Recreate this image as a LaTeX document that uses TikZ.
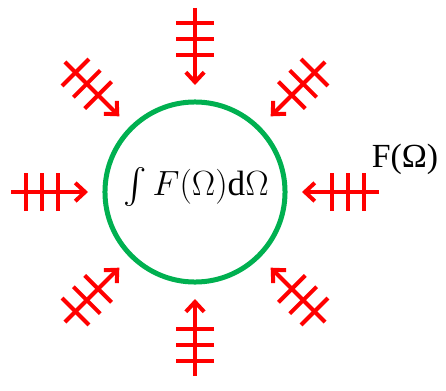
\documentclass[tikz,border=0pt]{standalone}
\usepackage{amsmath,amssymb}
\usepackage{fontspec}
\setmainfont{Liberation Serif}
\usepackage{tikz}
\usetikzlibrary{arrows.meta}
\definecolor{ringgreen}{RGB}{0,176,80}
\definecolor{rayred}{RGB}{255,0,0}
\newcommand{\FOm}{F(\Omega)}

\begin{document}
\begin{tikzpicture}[x=0.025cm, y=0.025cm]
  \tikzset{
    ring/.style={circle, draw=ringgreen, line width=0.125cm, minimum size=4.5cm, inner sep=0pt},
    ray/.style={draw=rayred, line width=0.1cm, -{Straight Barb[length=7pt,width=13pt]}},
    tick/.style={draw=rayred, line width=0.1cm}
  }
  \useasboundingbox (0,0) rectangle (446,390);
  \node[ring] (ring) at (195,198) {};
  \node[font=\fontsize{25}{30}\selectfont] (integral) at (196,203) {$\int \FOm\mathrm{d}\Omega$};
  \begin{scope}[shift={(ring.center)}]
    \foreach \a in {0,45,...,315} {
      \coordinate (tail\a) at (\a:184);
      \coordinate (tip\a) at (\a:107);
      \draw[ray] (tail\a) -- (tip\a);
      \foreach \d in {169,153,137}
        \draw[tick] (\a:\d) ++(\a+90:19) -- ++(\a-90:38);
    }
  \end{scope}
  \node[font=\fontsize{24}{28}\selectfont] (flabel) at (405,231) {F(Ω)};
\end{tikzpicture}
\end{document}
